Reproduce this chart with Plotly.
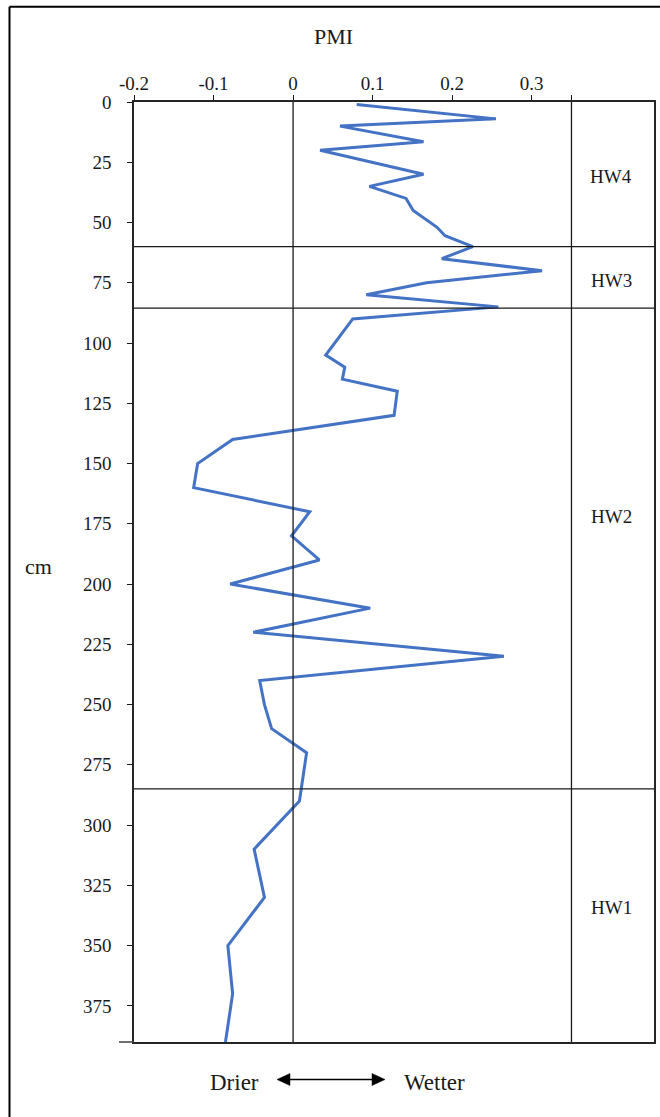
import plotly.graph_objects as go

# ---- data ----
depth_cm = [1, 7, 10, 16.5, 20, 30, 35, 40, 45, 52, 55.5, 60, 65, 70, 75, 80, 85, 90,
            105, 110, 115, 120, 130, 140, 150, 160, 170, 180, 190, 200, 210, 220, 230,
            240, 250, 260, 270, 290, 310, 330, 350, 370, 390]
pmi = [0.080, 0.255, 0.059, 0.164, 0.034, 0.164, 0.096, 0.142, 0.151, 0.181, 0.191, 0.226,
       0.187, 0.313, 0.168, 0.092, 0.258, 0.075,
       0.041, 0.065, 0.062, 0.131, 0.127, -0.076, -0.120, -0.125, 0.021, -0.002, 0.033,
       -0.079, 0.097, -0.050, 0.265, -0.042, -0.036, -0.027, 0.017, 0.008,
       -0.049, -0.036, -0.082, -0.076, -0.085]

x_tickvals = [-0.2, -0.1, 0, 0.1, 0.2, 0.3, 0.35]
x_ticktext = ["-0.2", "-0.1", "0", "0.1", "0.2", "0.3", ""]
y_tickvals = [0, 25, 50, 75, 100, 125, 150, 175, 200, 225, 250, 275, 300, 325, 350, 375]

unit_bounds = [60, 85.5, 285]
unit_labels = ["HW4", "HW3", "HW2", "HW1"]
unit_label_depths = [30.8, 74.2, 172, 334.4]

# ---- layout geometry (pixels) ----
W, H = 660, 1117
L, R, T, B = 134, 6, 102, 75
PW, PH = W - L - R, H - T - B
FONT = "Liberation Serif, Times New Roman, serif"


def px(x):
    return (x - L) / PW


def py(y):
    return (H - B - y) / PH


fig = go.Figure()
fig.add_trace(go.Scatter(x=pmi, y=depth_cm, mode="lines",
                         line=dict(color="#4472C4", width=3),
                         showlegend=False, hoverinfo="skip"))

shapes = []
# divider lines between units
for d in unit_bounds:
    shapes.append(dict(type="line", xref="paper", yref="y", x0=0, x1=1, y0=d, y1=d,
                       line=dict(color="#1a1a1a", width=1.3)))
# zero line and right column divider
for xv in [0, 0.35]:
    shapes.append(dict(type="line", xref="x", yref="paper", x0=xv, x1=xv, y0=0, y1=1,
                       line=dict(color="#1a1a1a", width=1.3)))
# small extension of bottom line
shapes.append(dict(type="line", xref="paper", yref="paper", x0=px(119), x1=0, y0=0, y1=0,
                   line=dict(color="#404040", width=1.5)))
# outer frame
shapes.append(dict(type="line", xref="paper", yref="paper", x0=px(9.5), x1=px(W + 5),
                   y0=py(6.7), y1=py(6.7), line=dict(color="black", width=2)))
shapes.append(dict(type="line", xref="paper", yref="paper", x0=px(9.5), x1=px(9.5),
                   y0=py(6.7), y1=py(H + 5), line=dict(color="black", width=2)))
# double arrow
ay_ = 1079.5
shapes.append(dict(type="line", xref="paper", yref="paper", x0=px(286), x1=px(376),
                   y0=py(ay_), y1=py(ay_), line=dict(color="black", width=1.5)))
for tip, base in [(277, 290), (385, 372)]:
    path = "M {} {} L {} {} L {} {} Z".format(px(tip), py(ay_), px(base), py(ay_ - 6),
                                              px(base), py(ay_ + 6))
    shapes.append(dict(type="path", xref="paper", yref="paper", path=path,
                       fillcolor="black", line=dict(color="black", width=0.5)))

annotations = []
for lab, d in zip(unit_labels, unit_label_depths):
    annotations.append(dict(x=0.40, y=d, xref="x", yref="y", text=lab, showarrow=False,
                            font=dict(family=FONT, size=19, color="#1a1a1a"),
                            xanchor="center", yanchor="middle"))
annotations.append(dict(x=px(333), y=py(36), xref="paper", yref="paper", text="PMI",
                        showarrow=False, font=dict(family=FONT, size=22, color="#1a1a1a"),
                        xanchor="center", yanchor="middle"))
annotations.append(dict(x=px(38), y=py(566), xref="paper", yref="paper", text="cm",
                        showarrow=False, font=dict(family=FONT, size=22, color="#1a1a1a"),
                        xanchor="center", yanchor="middle"))
annotations.append(dict(x=px(234), y=py(1082), xref="paper", yref="paper", text="Drier",
                        showarrow=False, font=dict(family=FONT, size=23, color="#1a1a1a"),
                        xanchor="center", yanchor="middle"))
annotations.append(dict(x=px(434), y=py(1082), xref="paper", yref="paper", text="Wetter",
                        showarrow=False, font=dict(family=FONT, size=23, color="#1a1a1a"),
                        xanchor="center", yanchor="middle"))

fig.update_layout(
    width=W, height=H,
    margin=dict(l=L, r=R, t=T, b=B, pad=0),
    paper_bgcolor="white", plot_bgcolor="white",
    shapes=shapes, annotations=annotations,
    xaxis=dict(range=[-0.2, -0.2 + PW / 795.4], side="top", tickmode="array",
               tickvals=x_tickvals, ticktext=x_ticktext, ticks="outside", ticklen=5,
               tickcolor="#1a1a1a", tickwidth=1.3, showgrid=False, zeroline=False,
               showline=True, linecolor="#262626", linewidth=1.5, mirror=True,
               tickfont=dict(family=FONT, size=19, color="#1a1a1a"), automargin=False,
               ticklabelstandoff=-2),
    yaxis=dict(range=[390, 0], tickmode="array", tickvals=y_tickvals, ticks="outside",
               ticklen=5, tickcolor="#1a1a1a", tickwidth=1.3, showgrid=False, zeroline=False,
               showline=True, linecolor="#262626", linewidth=1.5, mirror=True,
               tickfont=dict(family=FONT, size=19, color="#1a1a1a"), automargin=False,
               ticklabelstandoff=12),
)

fig.write_html("out.html")
